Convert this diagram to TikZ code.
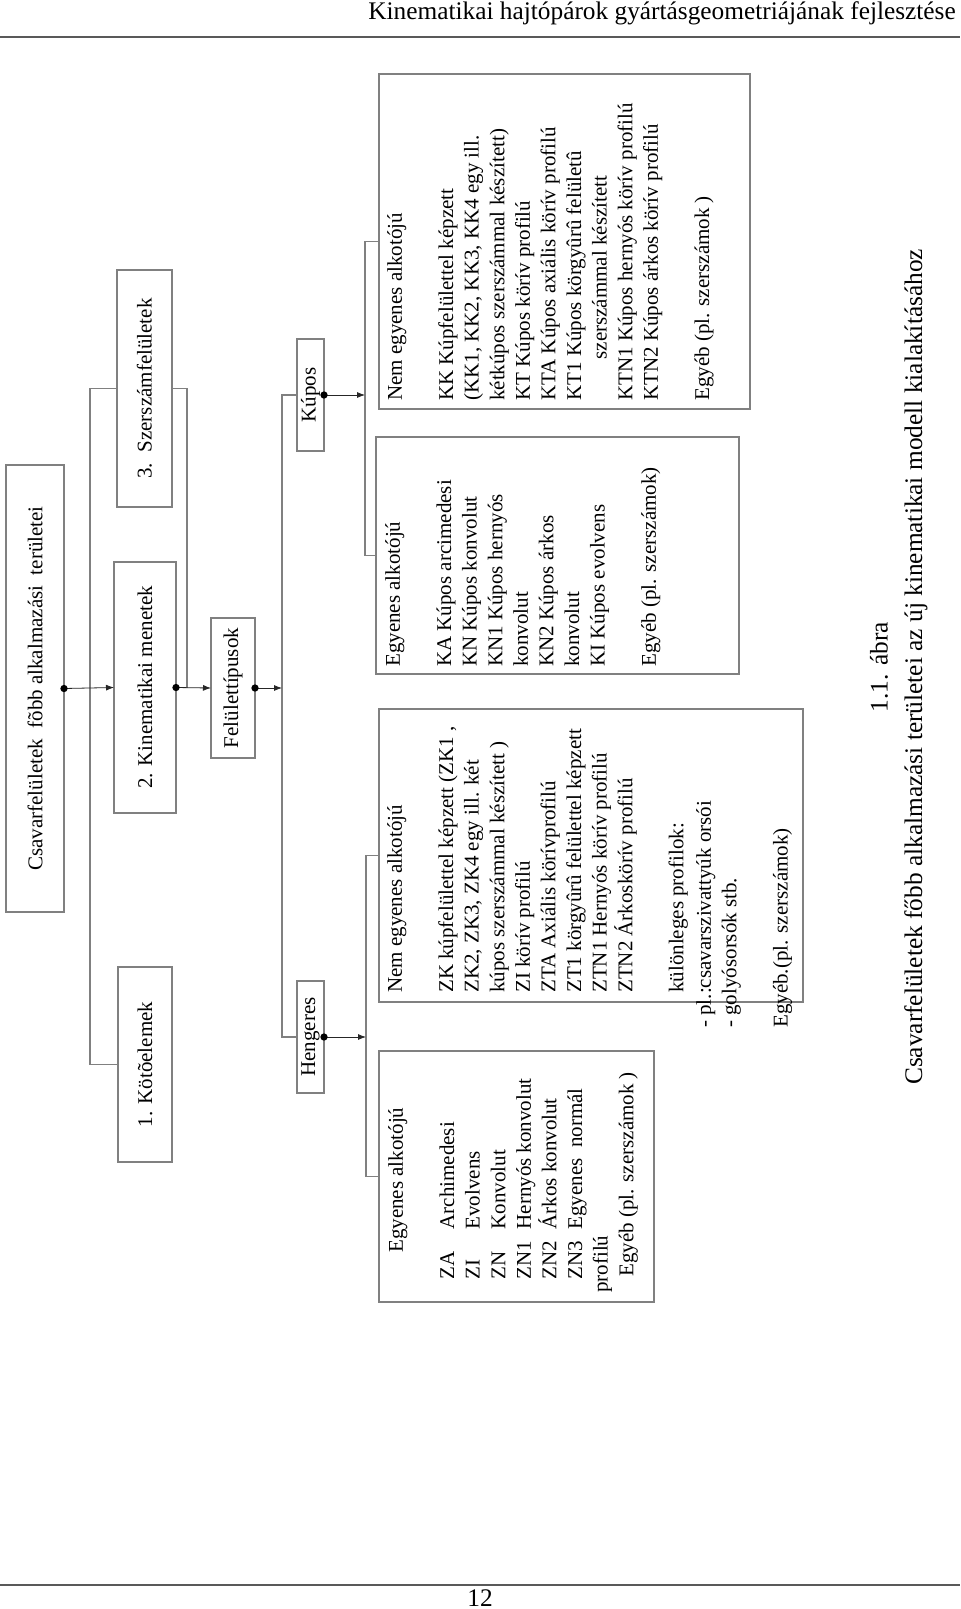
\documentclass[tikz,border=0pt]{standalone}
\usepackage{fontspec}
\setmainfont{Liberation Serif}
\usetikzlibrary{arrows.meta,fit}
\definecolor{edgegray}{gray}{0.5}
\definecolor{linedark}{gray}{0.15}
\definecolor{rulegray}{gray}{0.35}
\begin{document}
\begin{tikzpicture}[x=0.75pt,y=-0.75pt,
  boxc/.style={draw=edgegray, line width=0.8pt, inner sep=0pt, outer sep=0pt},
  lbl/.style={rotate=90, inner sep=0pt, font=\fontsize{15.75}{19.2}\selectfont},
  body/.style={rotate=90, inner sep=0pt, anchor=north west, align=left, font=\fontsize{15.75}{19.2}\selectfont},
  conn/.style={draw=edgegray, line width=0.8pt},
  arr/.style={draw=linedark, line width=0.6pt, -{Latex[length=6pt,width=4.5pt]}},
  dotc/.style={circle, fill=black, inner sep=0pt, minimum size=5.5pt},
  big/.style={font=\fontsize{19}{22}\selectfont, inner sep=0pt},
  rulel/.style={draw=rulegray, line width=1.5pt}
]
\useasboundingbox (0,0) rectangle (960,1609);
\fill[white] (0,0) rectangle (960,1609);

% header / footer
\node[big, anchor=base east] (hdr) at (956,20) {Kinematikai hajtópárok gyártásgeometriájának fejlesztése};
\draw[rulel] (0,37) -- (960,37);
\draw[rulel] (0,1585) -- (960,1585);
\node[big, anchor=base] (pg) at (480,1606) {12};

% boxes
\node[boxc, fit={(6,465) (64,912)}] (top) {};
\node[boxc, fit={(118,967) (172,1162)}] (b1) {};
\node[boxc, fit={(114,562) (176,813)}] (b2) {};
\node[boxc, fit={(117,270) (172,507)}] (b3) {};
\node[boxc, fit={(211,618) (255,758)}] (felt) {};
\node[boxc, fit={(297,339) (324,451)}] (kup) {};
\node[boxc, fit={(297,981) (324,1093)}] (hen) {};
\node[boxc, fit={(379,74) (750,409)}] (kne) {};
\node[boxc, fit={(376,437) (739,674)}] (ke) {};
\node[boxc, fit={(379,709) (803,1002)}] (hne) {};
\node[boxc, fit={(379,1051) (654,1302)}] (hee) {};

% labels
\node[lbl] (top-t) at (top.center) {Csavarfelületek\ \ fõbb alkalmazási\ \ területei};
\node[lbl] (b1-t) at (b1.center) {1. Kötõelemek};
\node[lbl] (b2-t) at (b2.center) {2. Kinematikai menetek};
\node[lbl] (b3-t) at (b3.center) {3.\ \ Szerszámfelületek};
\node[lbl] (felt-t) at (felt.center) {Felülettípusok};
\node[lbl] (kup-t) at (kup.center) {Kúpos};
\node[lbl] (hen-t) at (hen.center) {Hengeres};

% junction points
\coordinate (j1) at (90,688);
\coordinate (j2) at (187,688);
\coordinate (j3) at (282,688);
\coordinate (j4) at (365,395);
\coordinate (j5) at (366,1037);

% connectors
\draw[conn] (b3.west) -| (j1) |- (b1.west);
\draw[conn] (b3.east) -| (j2);
\draw[conn] (kup.west) -| (j3) |- (hen.west);
\draw[conn] (kne.west) -| (j4) |- (ke.west);
\draw[conn] (hne.west) -| (j5) |- (hee.west);

% arrows
\draw[arr] (top.east) -- (b2.west);
\draw[arr] (b2.east) -- (felt.west);
\draw[arr] (felt.east) -- (j3);
\draw[arr] (kup.east) -- (j4);
\draw[arr] (hen.east) -- (j5);

% dots
\node[dotc] (d0) at (top.east) {};
\node[dotc] (d2) at (b2.east) {};
\node[dotc] (d3) at (felt.east) {};
\node[dotc] (d4) at (kup.east) {};
\node[dotc] (d5) at (hen.east) {};

% body texts
\node[body] (kne-t) at (387,401) {Nem egyenes alkotójú\\ ~\\
KK Kúpfelülettel képzett\\
(KK1, KK2, KK3, KK4 egy ill.\\
kétkúpos szerszámmal készített)\\
KT Kúpos körív profilú\\
KTA Kúpos axiális körív profilú\\
KT1 Kúpos körgyûrû felületû\\
\hspace*{31pt}szerszámmal készített\\
KTN1 Kúpos hernyós körív profilú\\
KTN2 Kúpos árkos körív profilú\\ ~\\
Egyéb (pl. szerszámok )};

\node[body] (ke-t) at (385,667) {Egyenes alkotójú\\ ~\\
KA Kúpos arcimedesi\\
KN Kúpos konvolut\\
KN1 Kúpos hernyós\\
konvolut\\
KN2 Kúpos árkos\\
konvolut\\
KI Kúpos evolvens\\ ~\\
Egyéb (pl. szerszámok)};

\node[body] (hne-t) at (387,993) {Nem egyenes alkotójú\\ ~\\
ZK kúpfelülettel képzett (ZK1 ,\\
ZK2, ZK3, ZK4 egy ill. két\\
kúpos szerszámmal készített )\\
ZI körív profilú\\
ZTA Axiális körívprofilú\\
ZT1 körgyûrû felülettel képzett\\
ZTN1 Hernyós körív profilú\\
ZTN2 Árkoskörív profilú\\ ~\\
különleges profilok:};
\node[body] (hne-t2) at (696,1028) {- pl.:csavarszivattyúk orsói\\
- golyósorsók stb.\\ ~\\
Egyéb.(pl. szerszámok)};

\node[body] (hee-t) at (388,1293) {\hspace*{30pt}Egyenes alkotójú\\ ~\\
\hspace*{10pt}\makebox[37.5pt][l]{ZA}Archimedesi\\
\hspace*{10pt}\makebox[37.5pt][l]{ZI}Evolvens\\
\hspace*{10pt}\makebox[37.5pt][l]{ZN}Konvolut\\
\hspace*{10pt}\makebox[37.5pt][l]{ZN1}Hernyós konvolut\\
\hspace*{10pt}\makebox[37.5pt][l]{ZN2}Árkos konvolut\\
\hspace*{10pt}\makebox[37.5pt][l]{ZN3}Egyenes\ \ normál\\
profilú\\
\hspace*{12pt}Egyéb (pl. szerszámok )};

% caption
\node[big, rotate=90] (cap1) at (879,667) {1.1. ábra};
\node[big, rotate=90] (cap2) at (916,667) {Csavarfelületek főbb alkalmazási területei az új kinematikai modell kialakításához};
\end{tikzpicture}
\end{document}
